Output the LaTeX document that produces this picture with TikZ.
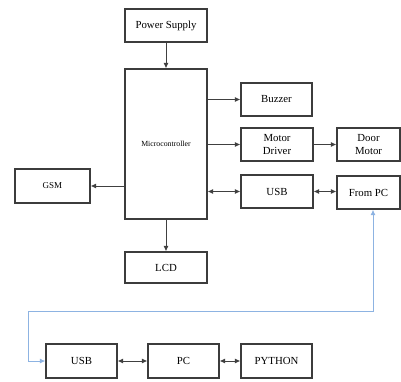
\documentclass[tikz,border=0pt]{standalone}
\usepackage{fontspec}
\setmainfont{Liberation Serif}
\usetikzlibrary{arrows.meta}
\definecolor{boxline}{HTML}{3C3C3C}
\definecolor{conn}{HTML}{404040}
\definecolor{bluel}{HTML}{8DB3E2}
\begin{document}
\begin{tikzpicture}[x=1pt,y=-1pt,
  tip/.style={},
  blk/.style={draw=boxline,line width=1.2pt,fill=white,inner sep=1pt,align=center,font=\fontsize{10.8}{13.5}\selectfont},
  con/.style={draw=conn,line width=0.9pt,-{Latex[length=5.5pt,width=5pt]}},
  bicon/.style={draw=conn,line width=0.9pt,{Latex[length=5.5pt,width=5pt]}-{Latex[length=5.5pt,width=5pt]}},
  bluecon/.style={draw=bluel,line width=1pt,{Latex[length=5.5pt,width=5pt]}-{Latex[length=5.5pt,width=5pt]}}]
\useasboundingbox (0,0) rectangle (401,381);
\node[blk,minimum width=82pt,minimum height=33pt] (ps) at (166,25.5) {Power Supply};
\node[blk,minimum width=82pt,minimum height=150pt,font=\fontsize{7.8}{9}\selectfont] (mc) at (166,144) {Microcontroller};
\node[blk,minimum width=71pt,minimum height=33pt] (bz) at (276.5,99.5) {Buzzer};
\node[blk,minimum width=72pt,minimum height=33pt] (md) at (277,144.5) {Motor\\Driver};
\node[blk,minimum width=63pt,minimum height=33pt] (dm) at (368.5,144.5) {Door\\Motor};
\node[blk,minimum width=75pt,minimum height=34pt,font=\fontsize{9}{11}\selectfont] (gsm) at (52.5,186) {GSM};
\node[blk,minimum width=72pt,minimum height=33pt] (usbt) at (277,191.5) {USB};
\node[blk,minimum width=63pt,minimum height=33pt] (fp) at (368.5,192.5) {From PC};
\node[blk,minimum width=82pt,minimum height=31pt] (lcd) at (166,267.5) {LCD};
\node[blk,minimum width=71pt,minimum height=34pt] (usbb) at (81.5,361) {USB};
\node[blk,minimum width=71pt,minimum height=34pt] (pc) at (183.5,361) {PC};
\node[blk,minimum width=71pt,minimum height=34pt] (py) at (276.5,361) {PYTHON};
\draw[con] (ps) -- (mc);
\draw[con] (mc.east |- bz) -- (bz.west);
\draw[con] (mc.east |- md) -- (md.west);
\draw[con] (md) -- (dm);
\draw[con] (mc.west |- gsm) -- (gsm.east);
\draw[bicon] (mc.east |- usbt) -- (usbt.west);
\draw[bicon] (usbt.east) -- (fp.west |- usbt);
\draw[con] (mc) -- (lcd);
\draw[bicon] (usbb) -- (pc);
\draw[bicon] (pc) -- (py);
\coordinate (b1) at (28,311);
\coordinate (b2) at (373,311);
\draw[bluecon] (usbb.west) -| (b1) -- (b2) -- (b2 |- fp.south);
\end{tikzpicture}
\end{document}
